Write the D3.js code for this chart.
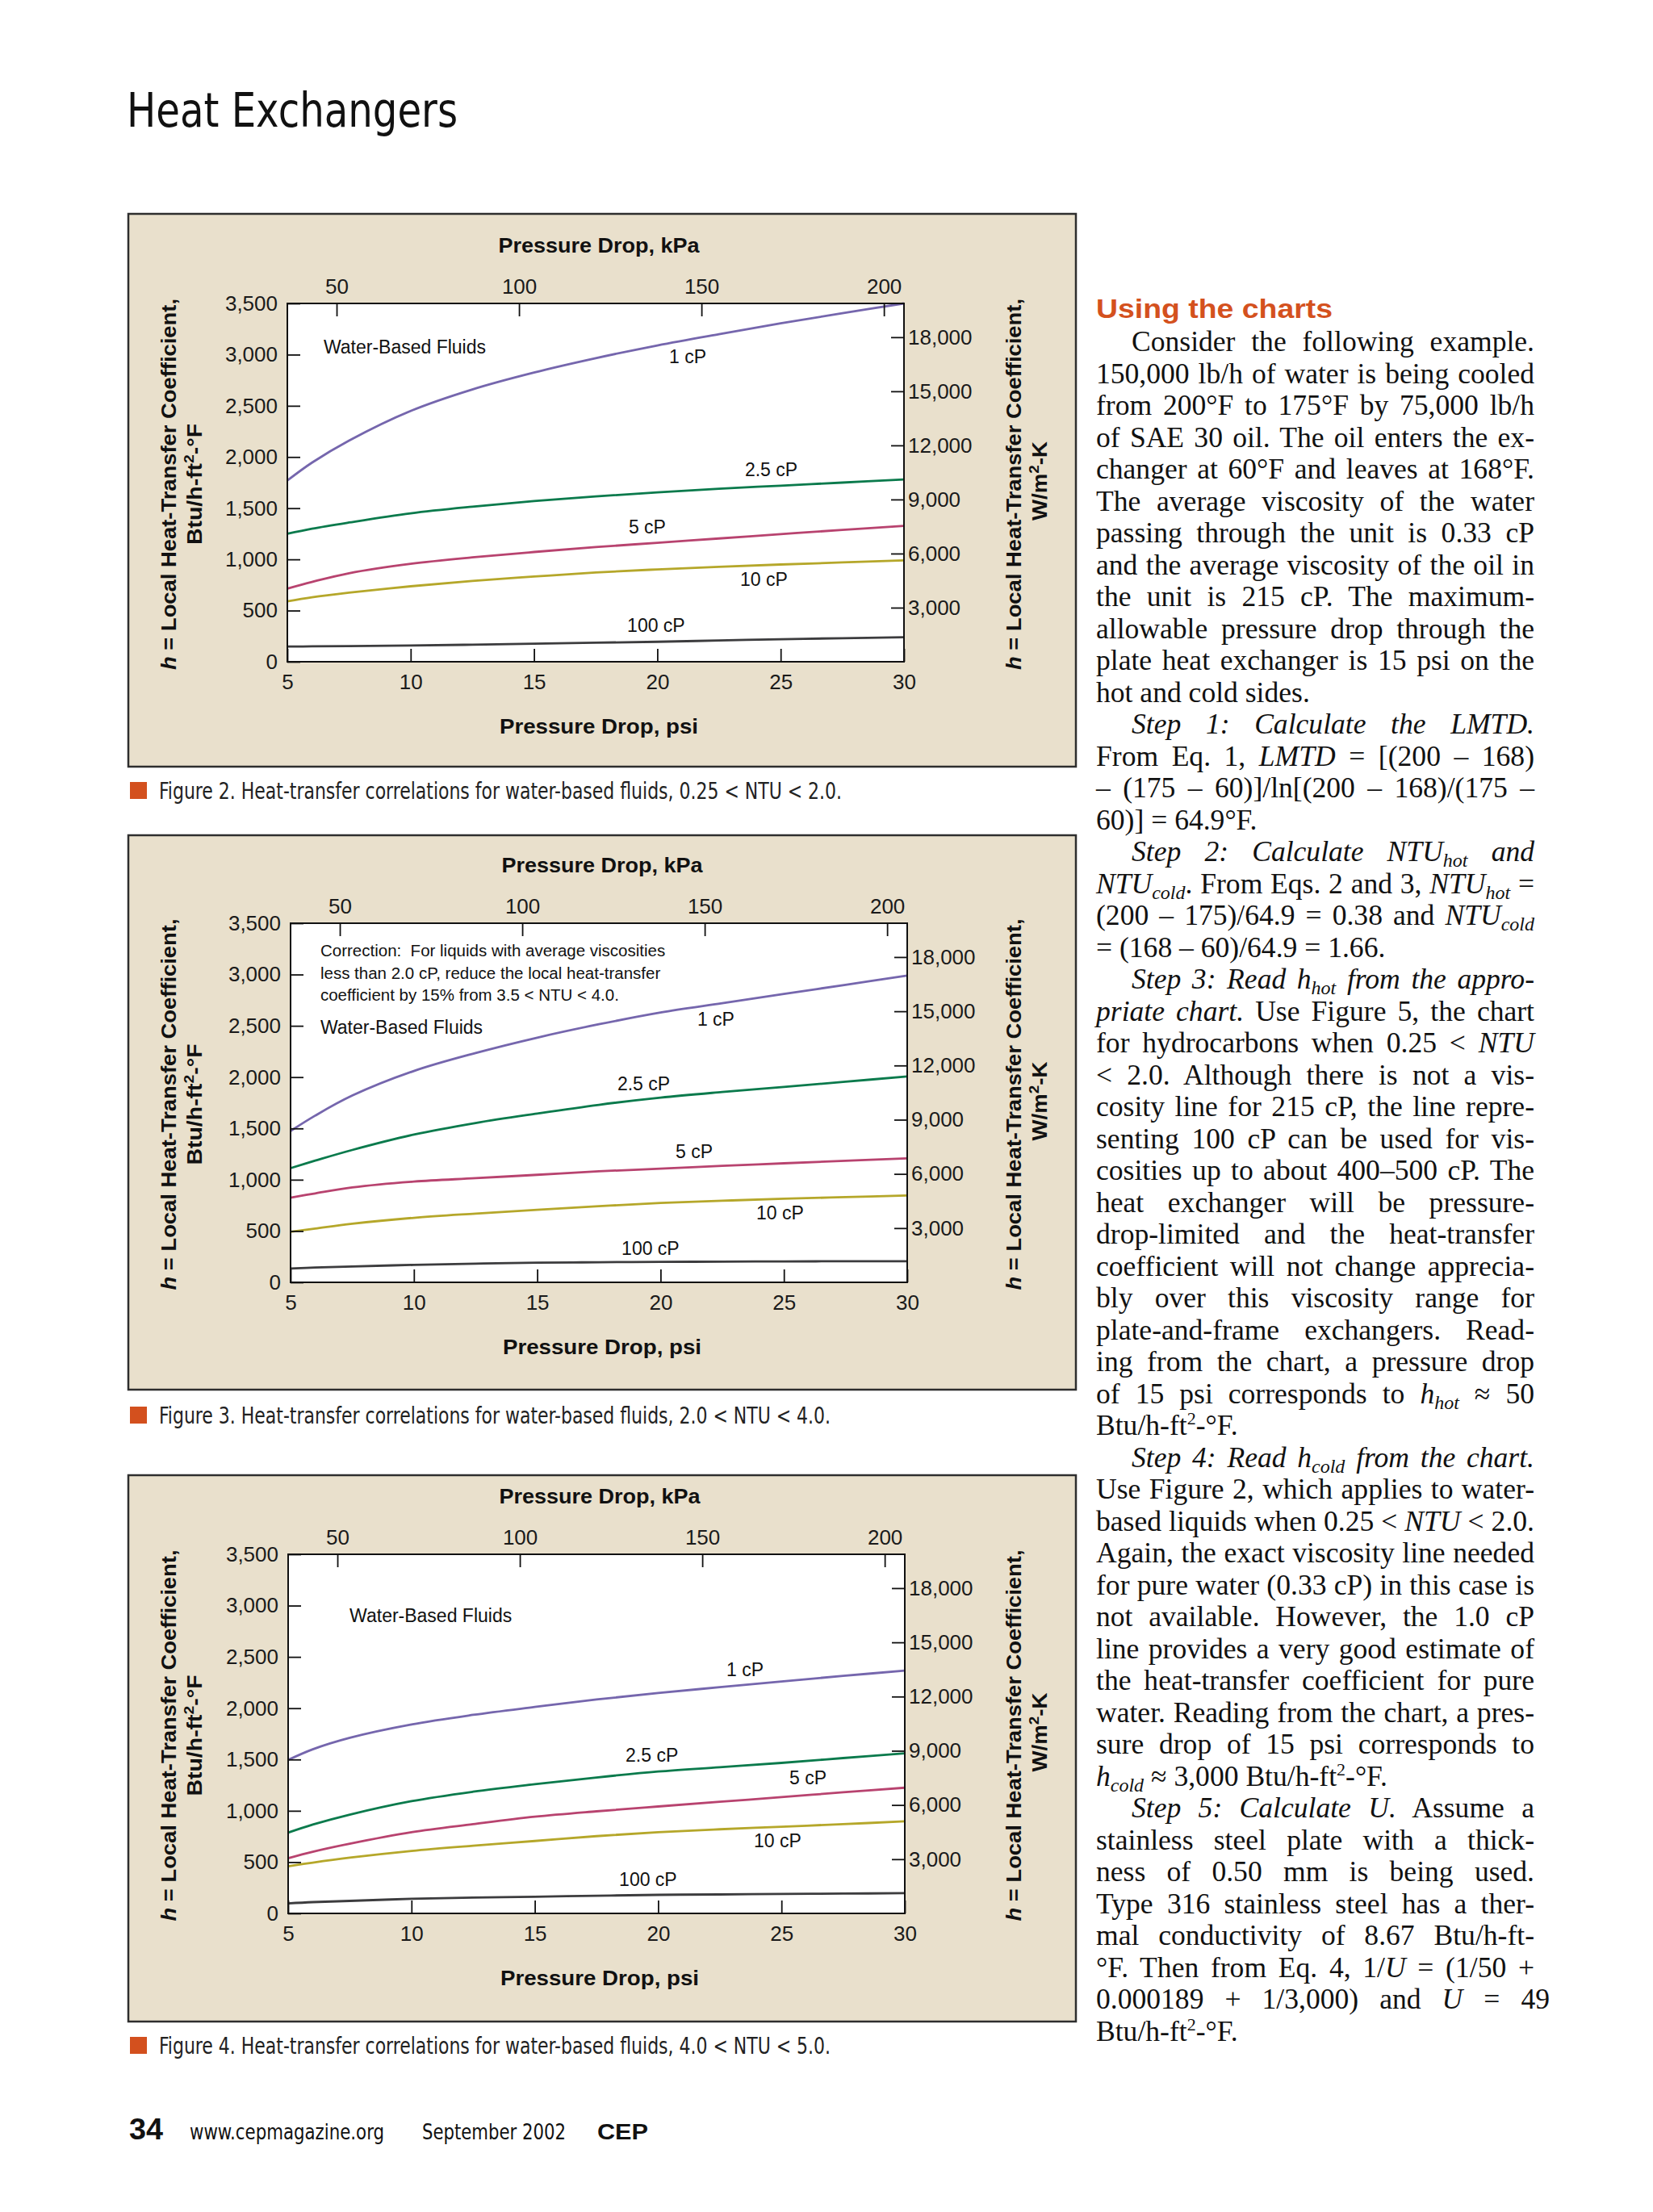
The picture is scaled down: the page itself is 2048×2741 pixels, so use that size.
<!DOCTYPE html>
<html>
<head>
<meta charset="UTF-8">
<title>Heat Exchangers</title>
<script src="https://cdn.jsdelivr.net/npm/d3@7"></script>
<style>
  body { margin: 0; background: #fff; }
  svg { display: block; }
</style>
</head>
<body>
<svg id="page" width="2048" height="2741"></svg>
<script>
var psi = [5, 6, 7.5, 10, 12.5, 15, 17.5, 20, 22.5, 25, 27.5, 30];
var psiTicks = [5, 10, 15, 20, 25, 30];
var kpaTicks = [50, 100, 150, 200];
var btuTicks = [0, 500, 1000, 1500, 2000, 2500, 3000, 3500];
var wattTicks = [3000, 6000, 9000, 12000, 15000, 18000];
var viscosities = ["1 cP", "2.5 cP", "5 cP", "10 cP", "100 cP"];

// Figure 2: 0.25 < NTU < 2.0, h in Btu/h-ft2-F
var fig2_1cP   = [1770, 1945, 2160, 2450, 2660, 2825, 2965, 3090, 3200, 3305, 3405, 3500];
var fig2_2_5cP = [1250, 1300, 1360, 1450, 1515, 1570, 1615, 1655, 1690, 1720, 1750, 1780];
var fig2_5cP   = [715, 780, 865, 957, 1020, 1072, 1120, 1162, 1204, 1246, 1288, 1327];
var fig2_10cP  = [590, 630, 675, 737, 790, 832, 872, 902, 928, 950, 970, 990];
var fig2_100cP = [148, 150, 153, 158, 167, 176, 186, 195, 208, 220, 230, 240];

// Figure 3: 2.0 < NTU < 4.0
var fig3_1cP   = [1475, 1625, 1820, 2060, 2235, 2385, 2515, 2630, 2720, 2810, 2900, 2990];
var fig3_2_5cP = [1113, 1186, 1290, 1440, 1553, 1645, 1730, 1800, 1855, 1905, 1955, 2007];
var fig3_5cP   = [825, 867, 925, 982, 1015, 1048, 1082, 1108, 1135, 1160, 1185, 1208];
var fig3_10cP  = [492, 524, 571, 629, 670, 707, 742, 773, 795, 815, 830, 846];
var fig3_100cP = [134, 144, 155, 170, 182, 191, 196, 199, 202, 204, 205, 205];

// Figure 4: 4.0 < NTU < 5.0
var fig4_1cP   = [1496, 1600, 1712, 1842, 1935, 2012, 2085, 2148, 2205, 2261, 2315, 2366];
var fig4_2_5cP = [787, 866, 963, 1094, 1186, 1259, 1325, 1383, 1425, 1467, 1514, 1561];
var fig4_5cP   = [538, 601, 680, 792, 870, 942, 995, 1042, 1088, 1133, 1180, 1225];
var fig4_10cP  = [459, 495, 543, 609, 660, 706, 753, 792, 820, 845, 870, 897];
var fig4_100cP = [97, 110, 122, 142, 154, 163, 172, 181, 185, 189, 193, 197];

var captions = [
  "Figure 2. Heat-transfer correlations for water-based fluids, 0.25 < NTU < 2.0.",
  "Figure 3. Heat-transfer correlations for water-based fluids, 2.0 < NTU < 4.0.",
  "Figure 4. Heat-transfer correlations for water-based fluids, 4.0 < NTU < 5.0."
];
var correction = [
  "Correction:  For liquids with average viscosities",
  "less than 2.0 cP, reduce the local heat-transfer",
  "coefficient by 15% from 3.5 < NTU < 4.0."
];

var bodyLines = [
  "Consider the following example.",
  "150,000 lb/h of water is being cooled",
  "from 200°F to 175°F by 75,000 lb/h",
  "of SAE 30 oil. The oil enters the ex-",
  "changer at 60°F and leaves at 168°F.",
  "The average viscosity of the water",
  "passing through the unit is 0.33 cP",
  "and the average viscosity of the oil in",
  "the unit is 215 cP. The maximum-",
  "allowable pressure drop through the",
  "plate heat exchanger is 15 psi on the",
  "hot and cold sides.",
  "<i>Step 1: Calculate the LMTD.</i>",
  "From Eq. 1, <i>LMTD</i> = [(200 – 168)",
  "– (175 – 60)]/ln[(200 – 168)/(175 –",
  "60)] = 64.9°F.",
  "<i>Step 2: Calculate NTU<sub>hot</sub> and</i>",
  "<i>NTU<sub>cold</sub></i>. From Eqs. 2 and 3, <i>NTU<sub>hot</sub></i> =",
  "(200 – 175)/64.9 = 0.38 and <i>NTU<sub>cold</sub></i>",
  "= (168 – 60)/64.9 = 1.66.",
  "<i>Step 3: Read h<sub>hot</sub> from the appro-</i>",
  "<i>priate chart.</i> Use Figure 5, the chart",
  "for hydrocarbons when 0.25 < <i>NTU</i>",
  "< 2.0. Although there is not a vis-",
  "cosity line for 215 cP, the line repre-",
  "senting 100 cP can be used for vis-",
  "cosities up to about 400–500 cP. The",
  "heat exchanger will be pressure-",
  "drop-limited and the heat-transfer",
  "coefficient will not change apprecia-",
  "bly over this viscosity range for",
  "plate-and-frame exchangers. Read-",
  "ing from the chart, a pressure drop",
  "of 15 psi corresponds to <i>h<sub>hot</sub></i> ≈ 50",
  "Btu/h-ft<sup>2</sup>-°F.",
  "<i>Step 4: Read h<sub>cold</sub> from the chart.</i>",
  "Use Figure 2, which applies to water-",
  "based liquids when 0.25 < <i>NTU</i> < 2.0.",
  "Again, the exact viscosity line needed",
  "for pure water (0.33 cP) in this case is",
  "not available. However, the 1.0 cP",
  "line provides a very good estimate of",
  "the heat-transfer coefficient for pure",
  "water. Reading from the chart, a pres-",
  "sure drop of 15 psi corresponds to",
  "<i>h<sub>cold</sub></i> ≈ 3,000 Btu/h-ft<sup>2</sup>-°F.",
  "<i>Step 5: Calculate U.</i> Assume a",
  "stainless steel plate with a thick-",
  "ness of 0.50 mm is being used.",
  "Type 316 stainless steel has a ther-",
  "mal conductivity of 8.67 Btu/h-ft-",
  "°F. Then from Eq. 4, 1/<i>U</i> = (1/50 +",
  "0.000189 + 1/3,000) and <i>U</i> = 49",
  "Btu/h-ft<sup>2</sup>-°F."
];
var indentLines = [0, 12, 16, 20, 35, 46];
var lastLines = [11, 15, 19, 34, 45, 53];

var colors = ["#7566ad", "#0a7a4c", "#b8436f", "#b5a72a", "#3c3c3e"];
var SANS = "Liberation Sans, Arial, Helvetica, sans-serif";
var NARROW = "Liberation Sans Narrow, Arial Narrow, DejaVu Sans Condensed, sans-serif";
var SERIF = "Liberation Serif, Times New Roman, serif";

var figures = [
  {
    plot: {x0: 356, x1: 1120, y0: 376, y1: 820}, box: [265, 950], capY: 990, capW: 846,
    series: [fig2_1cP, fig2_2_5cP, fig2_5cP, fig2_10cP, fig2_100cP],
    labelAt: [[20.48, 2917], [23.55, 1813], [18.84, 1253], [23.36, 741], [18.78, 292]],
    fluidsAt: [6.47, 3011], note: false
  },
  {
    plot: {x0: 360, x1: 1124, y0: 1144, y1: 1589}, box: [1035, 1722], capY: 1764, capW: 832,
    series: [fig3_1cP, fig3_2_5cP, fig3_5cP, fig3_10cP, fig3_100cP],
    labelAt: [[21.49, 2501], [18.25, 1872], [20.61, 1211], [23.88, 613], [18.42, 267]],
    fluidsAt: [6.21, 2422], note: true
  },
  {
    plot: {x0: 357, x1: 1121, y0: 1926, y1: 2371}, box: [1828, 2505], capY: 2545, capW: 832,
    series: [fig4_1cP, fig4_2_5cP, fig4_5cP, fig4_10cP, fig4_100cP],
    labelAt: [[22.77, 2312], [18.68, 1479], [25.32, 1258], [23.88, 645], [18.42, 267]],
    fluidsAt: [7.49, 2839], note: false
  }
];

var svg = d3.select("#page");
svg.append("rect").attr("width", 2048).attr("height", 2741).attr("fill", "#fff");

// page title
svg.append("text").attr("x", 157).attr("y", 157)
  .attr("font-family", NARROW).attr("font-size", 58).attr("fill", "#111")
  .attr("textLength", 410).attr("lengthAdjust", "spacingAndGlyphs")
  .text("Heat Exchangers");

function styleAxis(a) {
  a.select(".domain").remove();
  a.attr("font-family", SANS).attr("font-size", 26);
  a.selectAll(".tick line").attr("stroke", "#111").attr("stroke-width", 1.8);
  a.selectAll(".tick text").attr("fill", "#1a1a1a");
}

function vTitle(g, cx, cy, parts, len) {
  var t = g.append("text")
    .attr("transform", "translate(" + cx + "," + cy + ") rotate(-90)")
    .attr("text-anchor", "middle").attr("dy", "0.35em")
    .attr("font-family", SANS).attr("font-size", 25).attr("font-weight", "bold")
    .attr("fill", "#111")
    .attr("textLength", len).attr("lengthAdjust", "spacingAndGlyphs");
  parts.forEach(function (p) {
    var s = t.append("tspan").text(p[0]);
    if (p[1] === "i") s.attr("font-style", "italic");
    if (p[1] === "sup") s.attr("font-size", 17).attr("dy", -10);
    if (p[1] === "after") s.attr("dy", 10);
  });
}

function drawChart(f, k) {
  var p = f.plot;
  var g = svg.append("g");
  var x = d3.scaleLinear().domain([5, 30]).range([p.x0, p.x1]);
  // the printed kPa scale sits slightly off a pure 6.895 conversion
  var xk = d3.scaleLinear().domain([36.5, 205.5]).range([p.x0, p.x1]);
  var y = d3.scaleLinear().domain([0, 3500]).range([p.y1, p.y0]);
  var yw = d3.scaleLinear().domain([0, 3500 * 5.678]).range([p.y1, p.y0]);

  g.append("rect").attr("x", 159).attr("y", f.box[0])
    .attr("width", 1174).attr("height", f.box[1] - f.box[0])
    .attr("fill", "#e9e0cc").attr("stroke", "#2e2e2e").attr("stroke-width", 2.5);
  g.append("rect").attr("x", p.x0).attr("y", p.y0)
    .attr("width", p.x1 - p.x0).attr("height", p.y1 - p.y0).attr("fill", "#fff");

  var line = d3.line()
    .x(function (d, i) { return x(psi[i]); })
    .y(function (d) { return y(d); })
    .curve(d3.curveCatmullRom.alpha(0.5));
  g.selectAll("path.curve").data(f.series).enter().append("path")
    .attr("class", "curve")
    .attr("d", line)
    .attr("fill", "none")
    .attr("stroke", function (d, i) { return colors[i]; })
    .attr("stroke-width", 2.8);

  g.append("rect").attr("x", p.x0).attr("y", p.y0)
    .attr("width", p.x1 - p.x0).attr("height", p.y1 - p.y0)
    .attr("fill", "none").attr("stroke", "#111").attr("stroke-width", 2);

  var ax = g.append("g").attr("transform", "translate(0," + p.y1 + ")")
    .call(d3.axisBottom(x).tickValues(psiTicks).tickSizeInner(-16).tickSizeOuter(0)
      .tickPadding(15.5).tickFormat(d3.format("d")));
  styleAxis(ax);
  var axt = g.append("g").attr("transform", "translate(0," + p.y0 + ")")
    .call(d3.axisTop(xk).tickValues(kpaTicks).tickSizeInner(-16).tickSizeOuter(0)
      .tickPadding(12).tickFormat(d3.format("d")));
  styleAxis(axt);
  var ayl = g.append("g").attr("transform", "translate(" + p.x0 + ",0)")
    .call(d3.axisLeft(y).tickValues(btuTicks).tickSizeInner(-16).tickSizeOuter(0)
      .tickPadding(12).tickFormat(d3.format(",")));
  styleAxis(ayl);
  var ayr = g.append("g").attr("transform", "translate(" + p.x1 + ",0)")
    .call(d3.axisRight(yw).tickValues(wattTicks).tickSizeInner(-16).tickSizeOuter(0)
      .tickPadding(5).tickFormat(d3.format(",")));
  styleAxis(ayr);

  var mid = (p.x0 + p.x1) / 2 + 4;
  g.append("text").attr("x", mid).attr("y", p.y0 - 63).attr("text-anchor", "middle")
    .attr("font-family", SANS).attr("font-size", 26).attr("font-weight", "bold").attr("fill", "#111")
    .attr("textLength", 249).attr("lengthAdjust", "spacingAndGlyphs")
    .text("Pressure Drop, kPa");
  g.append("text").attr("x", mid).attr("y", p.y1 + 89).attr("text-anchor", "middle")
    .attr("font-family", SANS).attr("font-size", 26).attr("font-weight", "bold").attr("fill", "#111")
    .attr("textLength", 246).attr("lengthAdjust", "spacingAndGlyphs")
    .text("Pressure Drop, psi");

  var cy = (p.y0 + p.y1) / 2 + 2;
  vTitle(g, 209, cy, [["h", "i"], [" = Local Heat-Transfer Coefficient,", ""]], 460);
  vTitle(g, 241, cy, [["Btu/h-ft", ""], ["2", "sup"], ["-°F", "after"]], 150);
  vTitle(g, 1256, cy, [["h", "i"], [" = Local Heat-Transfer Coefficient,", ""]], 460);
  vTitle(g, 1288, cy - 4, [["W/m", ""], ["2", "sup"], ["-K", "after"]], 98);

  g.selectAll("text.cp").data(viscosities).enter().append("text")
    .attr("class", "cp")
    .attr("x", function (d, i) { return x(f.labelAt[i][0]); })
    .attr("y", function (d, i) { return y(f.labelAt[i][1]); })
    .attr("font-family", SANS).attr("font-size", 23).attr("fill", "#111")
    .text(function (d) { return d; });

  g.append("text").attr("x", x(f.fluidsAt[0])).attr("y", y(f.fluidsAt[1]))
    .attr("font-family", SANS).attr("font-size", 23).attr("fill", "#111")
    .text("Water-Based Fluids");

  if (f.note) {
    g.selectAll("text.note").data(correction).enter().append("text")
      .attr("class", "note")
      .attr("x", x(6.21))
      .attr("y", function (d, i) { return p.y0 + 41 + i * 27.5; })
      .attr("font-family", SANS).attr("font-size", 20.5).attr("fill", "#111")
      .attr("xml:space", "preserve")
      .text(function (d) { return d; });
  }

  // caption
  svg.append("rect").attr("x", 161).attr("y", f.capY - 21).attr("width", 21).attr("height", 21)
    .attr("fill", "#d3501e");
  svg.append("text").attr("x", 197).attr("y", f.capY)
    .attr("font-family", NARROW).attr("font-size", 28).attr("fill", "#222")
    .attr("textLength", f.capW).attr("lengthAdjust", "spacingAndGlyphs")
    .text(captions[k]);
}

figures.forEach(drawChart);

// right-hand text column
svg.append("text").attr("x", 1358).attr("y", 394)
  .attr("font-family", SANS).attr("font-size", 34).attr("font-weight", "bold")
  .attr("fill", "#d4511e")
  .attr("textLength", 293).attr("lengthAdjust", "spacingAndGlyphs")
  .text("Using the charts");

var body = svg.append("g").attr("font-family", SERIF).attr("font-size", 35.6).attr("fill", "#111");
bodyLines.forEach(function (str, i) {
  var left = 1358 + (indentLines.indexOf(i) >= 0 ? 44 : 0);
  var right = i === 52 ? 1920 : 1901;
  var t = body.append("text").attr("x", left).attr("y", 435 + i * 39.5);
  var italic = false, mode = "", shift = 0, plain = "";
  str.split(/(<\/?(?:i|sub|sup)>)/).forEach(function (piece) {
    if (piece === "<i>") { italic = true; return; }
    if (piece === "</i>") { italic = false; return; }
    if (piece === "<sub>") { mode = "sub"; return; }
    if (piece === "<sup>") { mode = "sup"; return; }
    if (piece === "</sub>" || piece === "</sup>") { mode = ""; return; }
    if (!piece) return;
    var target = mode === "sub" ? 7 : mode === "sup" ? -13 : 0;
    var s = t.append("tspan").text(piece);
    if (italic) s.attr("font-style", "italic");
    if (mode === "sub") s.attr("font-size", 24);
    if (mode === "sup") s.attr("font-size", 22);
    if (target !== shift) { s.attr("dy", target - shift); shift = target; }
    plain += piece;
  });
  if (lastLines.indexOf(i) < 0) {
    var len = t.node().getComputedTextLength();
    var gaps = plain.split(" ").length - 1;
    if (gaps > 0) t.attr("word-spacing", Math.max(0, (right - left - len) / gaps));
  }
});

// footer
var foot = svg.append("g").attr("fill", "#111");
foot.append("text").attr("x", 160).attr("y", 2651)
  .attr("font-family", SANS).attr("font-size", 36).attr("font-weight", "bold")
  .attr("textLength", 42).attr("lengthAdjust", "spacingAndGlyphs").text("34");
foot.append("text").attr("x", 235).attr("y", 2651)
  .attr("font-family", NARROW).attr("font-size", 27)
  .attr("textLength", 241).attr("lengthAdjust", "spacingAndGlyphs").text("www.cepmagazine.org");
foot.append("text").attr("x", 523).attr("y", 2651)
  .attr("font-family", NARROW).attr("font-size", 27)
  .attr("textLength", 178).attr("lengthAdjust", "spacingAndGlyphs").text("September 2002");
foot.append("text").attr("x", 740).attr("y", 2651)
  .attr("font-family", SANS).attr("font-size", 27).attr("font-weight", "bold")
  .attr("textLength", 63).attr("lengthAdjust", "spacingAndGlyphs").text("CEP");
</script>
</body>
</html>
